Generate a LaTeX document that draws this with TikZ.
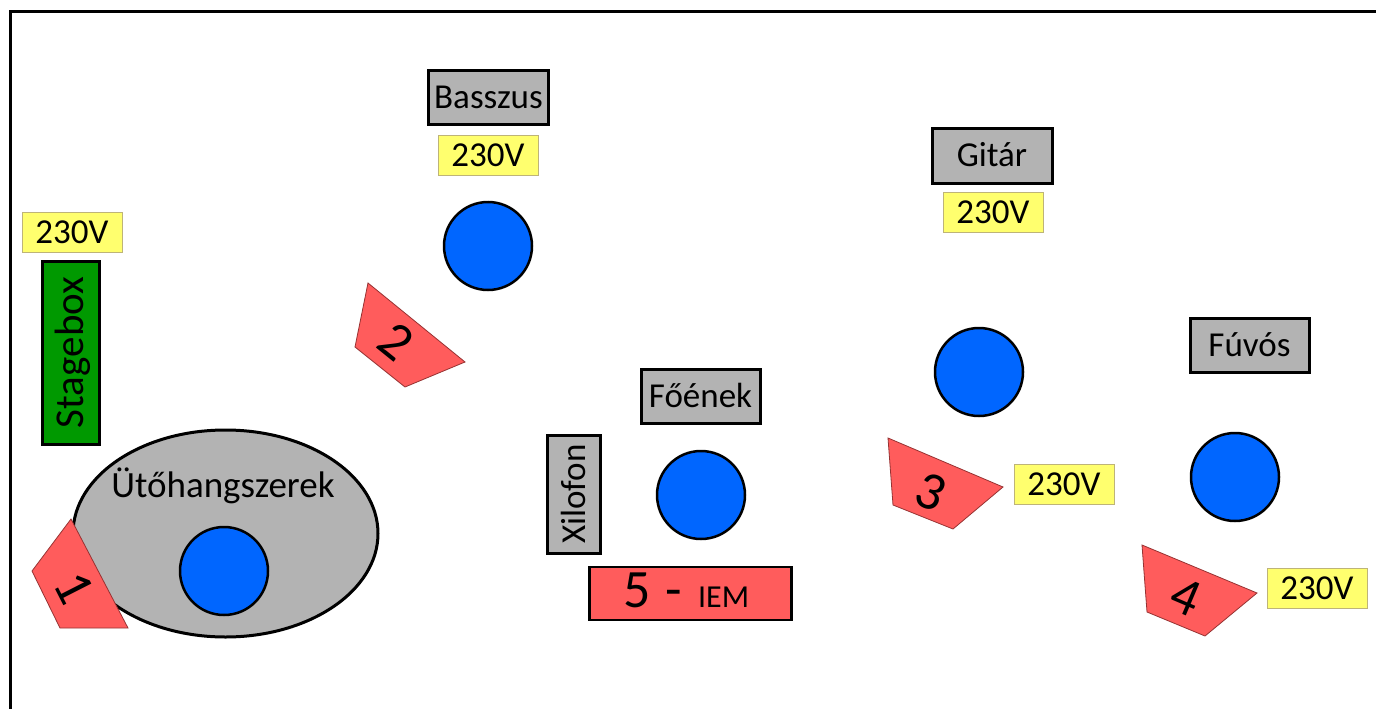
\documentclass[tikz,border=0pt]{standalone}
\usepackage{fontspec}
\setmainfont{Carlito}
\usetikzlibrary{shapes.geometric}
\definecolor{lblgray}{RGB}{179,179,179}
\definecolor{bluedot}{RGB}{0,102,255}
\definecolor{wedgered}{RGB}{255,92,92}
\definecolor{wedgeline}{RGB}{150,50,50}
\definecolor{pwryellow}{RGB}{255,255,110}
\definecolor{pwrline}{RGB}{190,180,120}
\definecolor{boxgreen}{RGB}{0,153,0}
\begin{document}
\begin{tikzpicture}[x=1pt,y=-1pt,
 lbl/.style={draw=black, line width=3pt, fill=lblgray, inner sep=0pt, font=\fontsize{35}{35}\selectfont, text height=22.5pt, text depth=0pt},
 pwr/.style={draw=pwrline, line width=1pt, fill=pwryellow, inner sep=0pt, minimum width=100pt, minimum height=40pt, font=\fontsize{35}{35}\selectfont, text height=22pt, text depth=0pt},
 musician/.style={circle, draw=black, line width=2.5pt, fill=bluedot, minimum size=88pt, inner sep=0pt},
 wedge/.style={draw=wedgeline, line width=0.8pt, fill=wedgered},
 wedgenum/.style={font=\fontsize{54}{54}\selectfont, inner sep=0pt, text height=34pt, text depth=0pt}
]
\useasboundingbox (0,0) rectangle (1376,709);
\fill[white] (0,0) rectangle (1376,709);
% frame
\draw[line width=3pt] (10,709) -- (10,12) -- (1376,12);

% Stagebox
\node[pwr] (p0) at (72,232.5) {230V};
\node[lbl, fill=boxgreen, rotate=90, minimum width=183pt, minimum height=57pt, font=\fontsize{41}{41}\selectfont, text height=26pt] (stagebox) at (70.5,352.5) {Stagebox};

% Percussion
\node[ellipse, draw=black, line width=3pt, fill=lblgray, minimum width=305pt, minimum height=207pt, inner sep=0pt] (perc) at (225.5,533.5) {};
\node[font=\fontsize{37}{37}\selectfont, inner sep=0pt, text height=24pt, text depth=0pt] (perct) at (223,485) {Ütőhangszerek};
\node[musician] (m1) at (224,571) {};
\draw[wedge] (71,519) -- (32,571) -- (60,628) -- (128,628) -- cycle;
\node[wedgenum, rotate=-63] (n1) at (74,588) {1};

% Bass
\node[lbl, minimum width=120pt, minimum height=53pt] (bass) at (488.5,97.5) {Basszus};
\node[pwr] (p1) at (488,155) {230V};
\node[musician] (m2) at (488,246) {};
\draw[wedge] (368,283) -- (355,347) -- (405,387) -- (465,362) -- cycle;
\node[wedgenum, rotate=-39] (n2) at (396,342) {2};

% Lead vocal
\node[lbl, minimum width=119pt, minimum height=54pt] (voc) at (700.5,396) {Főének};
\node[lbl, rotate=90, minimum width=118pt, minimum height=53pt] (xil) at (574,494) {Xilofon};
\node[musician] (m5) at (701,495) {};
\node[draw=black, line width=2.5pt, fill=wedgered, minimum width=202pt, minimum height=53pt, inner sep=0pt] (iem) at (690.5,593.5) {};
\node[inner sep=0pt, anchor=base west] (iemt) at (623,607) {\fontsize{54}{54}\selectfont 5\hspace{15pt}-\hspace{16pt}\fontsize{32}{32}\selectfont IEM};

% Guitar
\node[lbl, minimum width=120pt, minimum height=55pt] (git) at (992,155.5) {Gitár};
\node[pwr] (p2) at (993,212) {230V};
\node[musician] (m3) at (979,372) {};
\draw[wedge] (888,438) -- (893,505) -- (953,529) -- (1003,487) -- cycle;
\node[wedgenum, rotate=-23] (n3) at (931,492) {3};
\node[pwr] (p3) at (1064,484) {230V};

% Wind
\node[lbl, minimum width=119pt, minimum height=54pt] (fuv) at (1249.5,345) {Fúvós};
\node[musician] (m4) at (1235,477) {};
\draw[wedge] (1142,545) -- (1147,612) -- (1205,636) -- (1257,593) -- cycle;
\node[wedgenum, rotate=-23] (n4) at (1186,597) {4};
\node[pwr] (p4) at (1317,588) {230V};
\end{tikzpicture}
\end{document}
